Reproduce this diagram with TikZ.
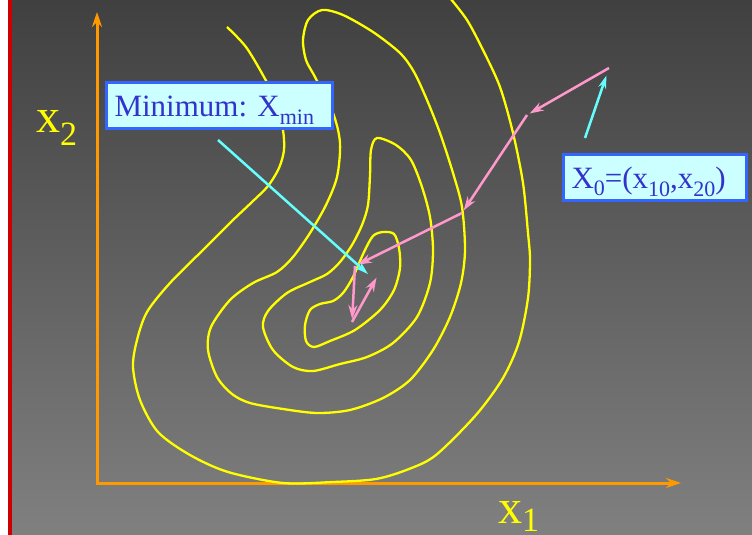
\documentclass[tikz,border=0pt]{standalone}
\usepackage{fontspec}
\setmainfont{Liberation Serif}
\usepackage{xcolor}
\usepackage{tikz}
\usetikzlibrary{arrows.meta}

\definecolor{bgtop}{RGB}{64,64,64}
\definecolor{bgbottom}{RGB}{128,128,128}
\definecolor{slidered}{RGB}{204,0,0}
\definecolor{axisorange}{RGB}{255,153,0}
\definecolor{levelyellow}{RGB}{255,255,0}
\definecolor{steppink}{RGB}{255,153,204}
\definecolor{pointcyan}{RGB}{102,255,255}
\definecolor{boxfill}{RGB}{204,255,255}
\definecolor{boxline}{RGB}{51,102,255}
\definecolor{boxtext}{RGB}{51,51,204}

% lowered subscript: shift, size, text
\newcommand{\lowsub}[3]{\raisebox{-#1pt}{\fontsize{#2}{#2}\selectfont #3}}

\begin{document}
\begin{tikzpicture}[x=1pt, y=-1pt, >=Stealth,
  axis/.style={line width=3pt, axisorange, {Stealth[length=15pt,width=10pt]}-{Stealth[length=15pt,width=10pt]}},
  level/.style={line width=2.3pt, levelyellow},
  descent/.style={line width=2.5pt, steppink, -{Stealth[length=14pt,width=9pt]}, shorten >=3pt},
  pointer/.style={line width=2.5pt, pointcyan, -{Stealth[length=13pt,width=8pt]}},
  labelbox/.style={draw=boxline, line width=3pt, fill=boxfill, text=boxtext,
    font=\fontsize{31}{31}\selectfont, inner xsep=8.5pt, inner ysep=0pt,
    text height=34.5pt, text depth=12pt, anchor=north west},
  axislabel/.style={levelyellow, font=\fontsize{48}{48}\selectfont, inner sep=0pt, anchor=base west}]

\useasboundingbox (0,0) rectangle (752,535);

% Slide background
\fill[white] (0,0) rectangle (752,535);
\shade[top color=bgtop, bottom color=bgbottom] (11.5,0) rectangle (752,535);
\fill[slidered] (8,0) rectangle (11.5,535);

% Axes
\coordinate (O) at (97,483);
\coordinate (xend) at (681,483);
\coordinate (yend) at (97,12);
\draw[axis] (yend) -- (O) -- (xend);
\node[axislabel] (xtwo) at (36,132) {x\lowsub{13}{34}{2}};
\node[axislabel] (xone) at (498,523) {x\lowsub{8}{34}{1}};

% Level curves of the function
\draw[level] plot[smooth cycle] coordinates {(383,232) (394,234) (399,248) (400,268) (394,290)
  (380,310) (355,330) (330,341) (314,347) (306,341) (305,325) (310,310) (320,304) (333,301)
  (343,293) (353,277) (364,252) (373,236)};
\draw[level] plot[smooth cycle] coordinates {(377,138) (396,145) (411,160) (422,187) (430,217)
  (433,250) (430,283) (417,317) (393,343) (367,357) (340,364) (313,371) (293,367) (273,350)
  (263,327) (268,311) (287,293) (310,282) (327,274) (340,262) (352,245) (362,225) (368,205)
  (370,175) (371,150)};
\draw[level] plot[smooth cycle] coordinates {(322,10) (343,15) (373,32) (400,53) (414,72)
  (427,100) (440,133) (453,173) (462,207) (465,250) (461,283) (450,317) (433,350) (410,380)
  (383,398) (350,410) (317,413) (283,409) (250,403) (232,394) (217,377) (208,350) (211,327)
  (230,300) (253,283) (277,272) (293,257) (310,233) (326,205) (337,177) (340,143) (333,113)
  (315,77) (306,60) (303,40) (308,20)};
\draw[level] plot[smooth] coordinates {(227,27) (246,47) (264,77) (277,103) (283,130) (284,150)
  (279,168) (268,186) (252,202) (232,221) (205,248) (170,283) (147,312) (137,340) (133,367)
  (140,400) (158,432) (190,455) (228,472) (283,483) (333,482) (376,479) (409,469) (436,455)
  (476,415) (503,378) (519,342) (528,298) (530,260) (528,233) (523,183) (513,133) (500,87)
  (483,50) (467,20) (450,-2)};

% Descent steps
\coordinate (X0) at (609,68);
\coordinate (s1) at (527,115);
\coordinate (s2) at (462,213);
\coordinate (s3) at (355,266);
\coordinate (s4) at (352,322);
\coordinate (s5) at (378,275);
\draw[descent] (X0) -- (s1);
\draw[descent] (s1) -- (s2);
\draw[descent] (s2) -- (s3);
\draw[descent] (s3) -- (s4);
\draw[descent] (s4) -- (s5);

% Labels
\node[labelbox] (minbox) at (104.5,80.5) {\makebox[209pt][l]{Minimum: X\lowsub{8}{22}{min}}};
\node[labelbox] (startbox) at (561.5,152.5) {\makebox[166pt][l]{X\lowsub{7}{22}{0}=(x\lowsub{8}{22}{10},x\lowsub{8}{22}{20})}};

% Pointers
\coordinate (minfoot) at (218,140);
\coordinate (xmin) at (368,274);
\coordinate (startfoot) at (585,138);
\draw[pointer] (minfoot) -- (xmin);
\draw[pointer, shorten >=8pt] (startfoot) -- (X0);

\end{tikzpicture}
\end{document}
